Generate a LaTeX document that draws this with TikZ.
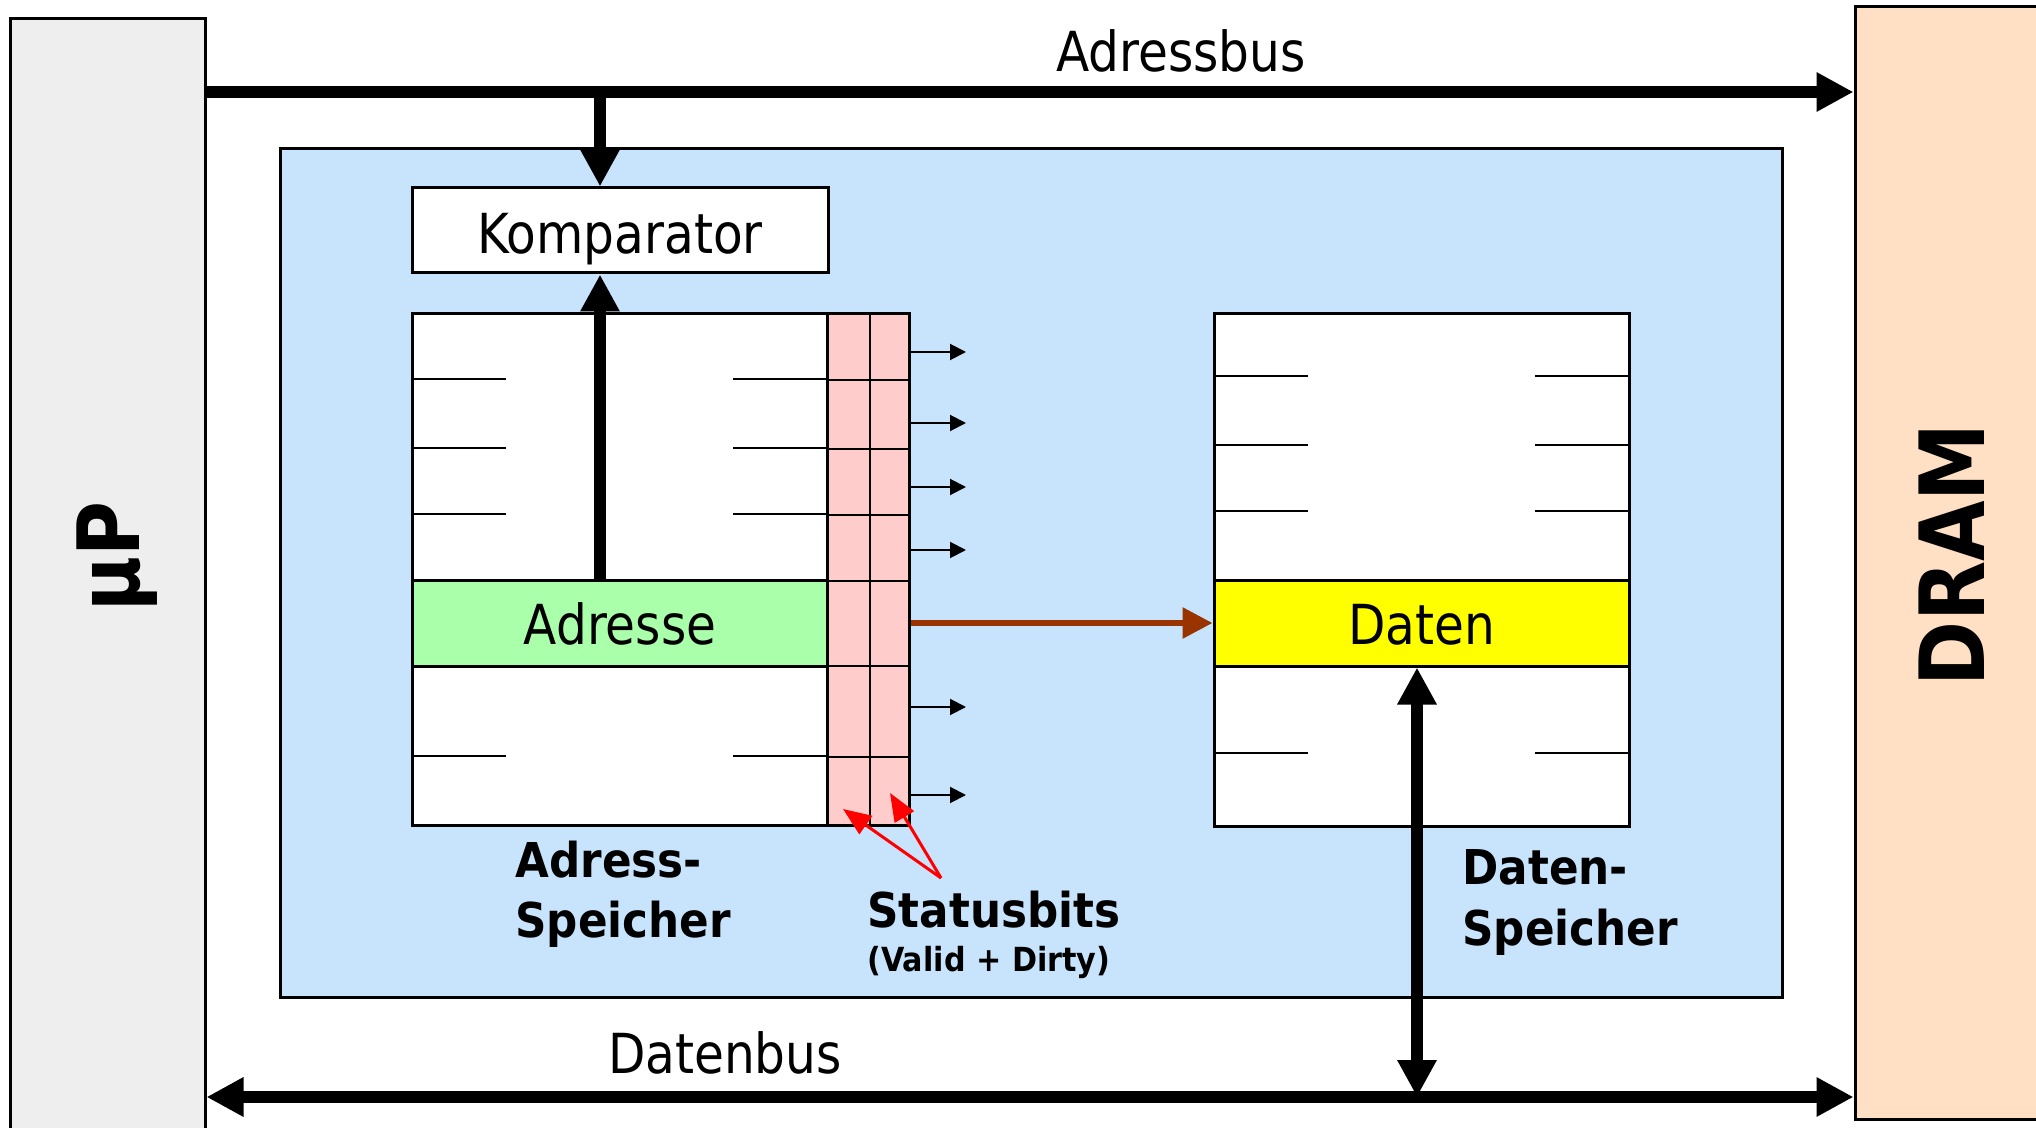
\documentclass[tikz,border=0pt]{standalone}
\usepackage{fontspec}
\setmainfont{DejaVu Sans}
\newfontfamily\rfont{DejaVu Sans}[FakeStretch=0.88]
\newfontfamily\bfontA{DejaVu Sans}[FakeStretch=0.91]
\newfontfamily\bfontB{DejaVu Sans}[FakeStretch=0.87]
\usetikzlibrary{arrows.meta,fit}
\definecolor{cacheblue}{RGB}{200,228,252}
\definecolor{upgray}{RGB}{238,238,238}
\definecolor{drampeach}{RGB}{255,224,196}
\definecolor{addrgreen}{RGB}{170,255,170}
\definecolor{datyellow}{RGB}{255,255,0}
\definecolor{statpink}{RGB}{255,204,204}
\definecolor{hitbrown}{RGB}{153,51,0}
\tikzset{
  blk/.style={inner sep=0pt, draw=black, line width=1.5pt},
  rowline/.style={draw=black, line width=1pt},
  bus/.style={line width=6pt, draw=black},
  bushead/.style={-{Triangle[length=18.5pt,width=18.5pt]}},
  busboth/.style={{Triangle[length=18.5pt,width=18.5pt]}-{Triangle[length=18.5pt,width=18.5pt]}},
  smallarr/.style={line width=1pt, -{Triangle[length=8pt,width=8pt]}},
  redarr/.style={line width=1.5pt, draw=red, -{Triangle[length=14pt,width=11pt]}, red},
  regtxt/.style={font=\rfont\fontsize{27.6}{32}\selectfont, inner sep=0pt},
  boldtxt/.style={font=\bfontA\bfseries\fontsize{24}{30}\selectfont, inner sep=0pt, anchor=base west},
}
\begin{document}
\begin{tikzpicture}[x=0.5pt, y=-0.5pt]
\useasboundingbox (0,0) rectangle (2036,1128);
\fill[white] (0,0) rectangle (2036,1128);

% side blocks
\node[blk, fill=upgray, fit={(10,19)(205,1150)}] (up) {};
\node[blk, fill=drampeach, fit={(1855,7)(2060,1119)}] (dram) {};
\node[rotate=90, font=\bfontB\bfseries\fontsize{43}{50}\selectfont, inner sep=0pt] (uptxt) at (117,557) {µP};
\node[rotate=90, font=\bfontB\bfseries\fontsize{45}{50}\selectfont, inner sep=0pt] (dramtxt) at (1952,555) {DRAM};

% cache area
\node[blk, fill=cacheblue, fit={(280,149)(1782,997)}] (cache) {};

% Komparator
\node[blk, fill=white, fit={(412,188)(828,273)}] (komp) {};
\node[regtxt, anchor=base] (komptxt) at (620,254) {Komparator};

% address store
\node[blk, fill=white, fit={(412,314)(827,825)}] (astore) {};
\foreach \yy in {379,448,514,756} {
  \draw[rowline] (412,\yy) -- (506,\yy);
  \draw[rowline] (733,\yy) -- (827,\yy);
}
\node[blk, fill=addrgreen, fit={(412,581)(827,666)}] (arow) {};
\node[regtxt, anchor=base] (arowtxt) at (620,645) {Adresse};

% status bits
\node[blk, fill=statpink, fit={(827,314)(909,825)}] (stat) {};
\draw[rowline] (870,314) -- (870,825);
\foreach \yy in {380,449,515,581,666,757} {
  \draw[rowline] (827,\yy) -- (909,\yy);
}

% data store
\node[blk, fill=white, fit={(1214,314)(1629,826)}] (dstore) {};
\foreach \yy in {376,445,511,753} {
  \draw[rowline] (1214,\yy) -- (1308,\yy);
  \draw[rowline] (1535,\yy) -- (1629,\yy);
}
\node[blk, fill=datyellow, fit={(1214,581)(1629,666)}] (drow) {};
\node[regtxt, anchor=base] (drowtxt) at (1422,645) {Daten};

% buses
\coordinate (abusy) at (0,92);
\coordinate (dbusy) at (0,1097);
\coordinate (abj) at (600,92);
\coordinate (dbj) at (1417,1097);
\draw[bus, bushead] (up.east |- abusy) -- (dram.west |- abusy);
\draw[bus, busboth] (up.east |- dbusy) -- (dram.west |- dbusy);
\draw[bus, bushead] (abj) -- (komp.north -| abj);
\draw[bus, bushead] (arow.north -| abj) -- (komp.south -| abj);
\draw[bus, busboth] (dbj) -- (drow.south -| dbj);

% hit line
\coordinate (hity) at (0,623);
\draw[line width=3pt, hitbrown, -{Triangle[length=15pt,width=15pt]}] (stat.east |- hity) -- (drow.west |- hity);

% small status arrows
\foreach \yy [count=\i] in {352,423,487,550,707,795} {
  \coordinate (sa\i) at (966,\yy);
  \draw[smallarr] (stat.east |- sa\i) -- (sa\i);
}

% red pointers
\coordinate (redsrc) at (941,878);
\coordinate (redt1) at (843,809);
\coordinate (redt2) at (890,793);
\draw[redarr] (redsrc) -- (redt1);
\draw[redarr] (redsrc) -- (redt2);

% labels
\node[regtxt, anchor=base] (abustxt) at (1181,72) {Adressbus};
\node[regtxt, anchor=base] (dbustxt) at (725,1073) {Datenbus};
\node[boldtxt] (asl1) at (515,877) {Adress-};
\node[boldtxt] (asl2) at (515,937) {Speicher};
\node[boldtxt] (sbl1) at (867,927) {Statusbits};
\node[boldtxt, font=\bfontA\bfseries\fontsize{16.6}{20}\selectfont] (sbl2) at (867,971) {(Valid + Dirty)};
\node[boldtxt] (dsl1) at (1462,884) {Daten-};
\node[boldtxt] (dsl2) at (1462,945) {Speicher};
\end{tikzpicture}
\end{document}
